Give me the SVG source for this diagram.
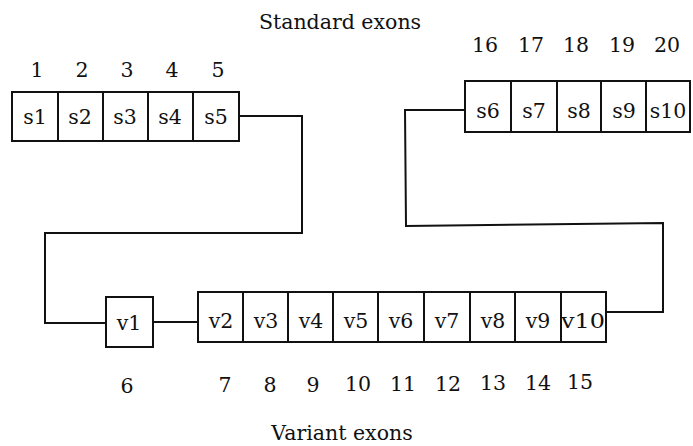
<svg xmlns="http://www.w3.org/2000/svg" width="693" height="446" viewBox="0 0 693 446">
<style>
text{font-family:"DejaVu Serif","Liberation Serif",serif;font-size:20.5px;fill:#111;text-anchor:middle}
.t{font-size:20.5px}
.c{fill:#fff;stroke:#111;stroke-width:2}
.w{fill:none;stroke:#111;stroke-width:2}
</style>
<rect width="693" height="446" fill="#fff"/>
<text class="t" x="340" y="29">Standard exons</text>
<text class="t" x="342" y="440">Variant exons</text>
<g id="connectors">
<polyline class="w" points="239,116 302,116 302,233 45,233 45,323 107,323"/>
<line class="w" x1="153" y1="322" x2="198" y2="322"/>
<polyline class="w" points="465,110 405,110 406,226 663,223 663,312 606,312"/>
</g>
<g id="standard-left">
<g id="s1"><rect class="c" x="12" y="92" width="46" height="49"/><text x="35" y="124">s1</text><text x="37" y="77">1</text></g>
<g id="s2"><rect class="c" x="58" y="92" width="45" height="49"/><text x="80" y="124">s2</text><text x="82" y="77">2</text></g>
<g id="s3"><rect class="c" x="103" y="92" width="45" height="49"/><text x="125" y="124">s3</text><text x="127" y="77">3</text></g>
<g id="s4"><rect class="c" x="148" y="92" width="45" height="49"/><text x="170" y="124">s4</text><text x="172" y="77">4</text></g>
<g id="s5"><rect class="c" x="193" y="92" width="46" height="49"/><text x="216" y="124">s5</text><text x="218" y="77">5</text></g>
</g>
<g id="standard-right">
<g id="s6"><rect class="c" x="465" y="81" width="46" height="51"/><text x="488" y="118">s6</text><text x="485" y="52">16</text></g>
<g id="s7"><rect class="c" x="511" y="81" width="46" height="51"/><text x="534" y="118">s7</text><text x="531" y="52">17</text></g>
<g id="s8"><rect class="c" x="557" y="81" width="44" height="51"/><text x="579" y="118">s8</text><text x="576" y="52">18</text></g>
<g id="s9"><rect class="c" x="601" y="81" width="45" height="51"/><text x="624" y="118">s9</text><text x="622" y="52">19</text></g>
<g id="s10"><rect class="c" x="646" y="81" width="44" height="51"/><text x="668" y="118">s10</text><text x="667" y="52">20</text></g>
</g>
<g id="variant">
<g id="v1"><rect class="c" x="106" y="297" width="47" height="50"/><text x="129" y="330">v1</text><text x="127" y="393">6</text></g>
<g id="v2"><rect class="c" x="198" y="292" width="45" height="50"/><text x="221" y="328">v2</text><text x="225" y="392">7</text></g>
<g id="v3"><rect class="c" x="243" y="292" width="45" height="50"/><text x="266" y="328">v3</text><text x="270" y="392">8</text></g>
<g id="v4"><rect class="c" x="288" y="292" width="45" height="50"/><text x="311" y="328">v4</text><text x="313" y="392">9</text></g>
<g id="v5"><rect class="c" x="333" y="292" width="45" height="50"/><text x="356" y="328">v5</text><text x="358" y="391">10</text></g>
<g id="v6"><rect class="c" x="378" y="292" width="46" height="50"/><text x="401" y="328">v6</text><text x="403" y="391">11</text></g>
<g id="v7"><rect class="c" x="424" y="292" width="46" height="50"/><text x="447" y="328">v7</text><text x="448" y="391">12</text></g>
<g id="v8"><rect class="c" x="470" y="292" width="45" height="50"/><text x="493" y="328">v8</text><text x="493" y="390">13</text></g>
<g id="v9"><rect class="c" x="515" y="292" width="46" height="50"/><text x="538" y="328">v9</text><text x="538" y="390">14</text></g>
<g id="v10"><rect class="c" x="561" y="292" width="45" height="50"/><text x="583" y="328" textLength="44" lengthAdjust="spacingAndGlyphs">v10</text><text x="580" y="389">15</text></g>
</g>
</svg>
